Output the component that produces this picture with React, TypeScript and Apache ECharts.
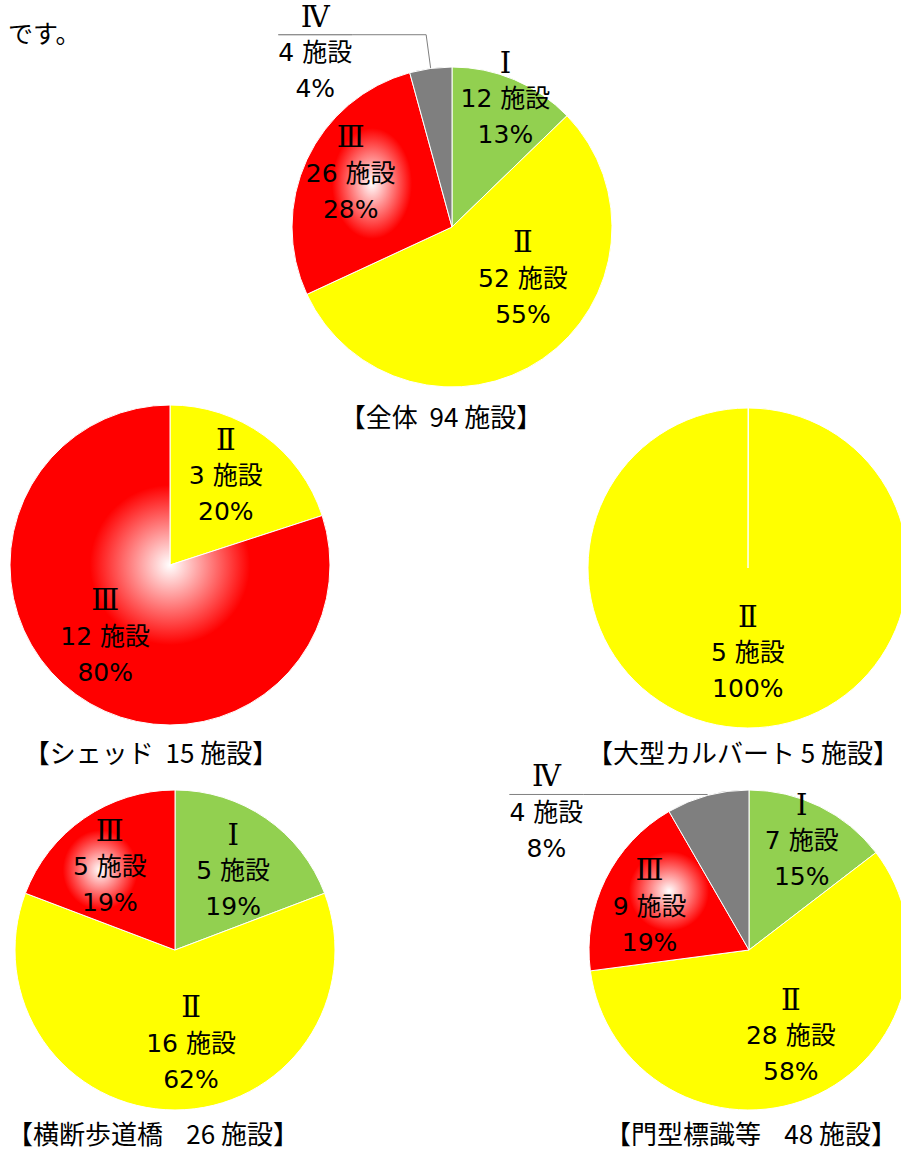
import React, { useEffect, useRef } from 'react';
import * as echarts from 'echarts';

// ---- data ----
const introText = 'です。';
const unitLabel = '施設';

const allNames = ['Ⅰ', 'Ⅱ', 'Ⅲ', 'Ⅳ'];
const allValues = [12, 52, 26, 4];

const shedNames = ['Ⅱ', 'Ⅲ'];
const shedValues = [3, 12];

const culvertNames = ['Ⅰ', 'Ⅱ'];
const culvertValues = [0, 5];

const bridgeNames = ['Ⅰ', 'Ⅱ', 'Ⅲ'];
const bridgeValues = [5, 16, 5];

const signNames = ['Ⅰ', 'Ⅱ', 'Ⅲ', 'Ⅳ'];
const signValues = [7, 28, 9, 4];

const chartTitles = [
  '【全体  94 施設】',
  '【シェッド  15 施設】',
  '【大型カルバート 5 施設】',
  '【横断歩道橋    26 施設】',
  '【門型標識等    48 施設】',
];

// ---- layout / style ----
const RADIUS = 160;
const pieLayouts: any[] = [
  { names: allNames, values: allValues, center: [452, 227], title: [441, 415], minAngle: 0,
    nudges: [[21, -52], [24, -17], [-26, -19], null], outside: { 3: [34, 74] } },
  { names: shedNames, values: shedValues, center: [170, 565], title: [151, 751], minAngle: 0,
    nudges: [[7, -22], [-16, 4]], outside: {} },
  { names: culvertNames, values: culvertValues, center: [748, 568], title: [743, 751], minAngle: 0.2,
    nudges: [null, [0, 2]], outside: {} },
  { names: bridgeNames, values: bridgeValues, center: [175, 950], title: [153, 1132], minAngle: 0,
    nudges: [[11, -11], [16, 10], [-18, -15]], outside: {} },
  { names: signNames, values: signValues, center: [749, 950], title: [751, 1132], minAngle: 0,
    nudges: [[16, -35], [10, 9], [-25, -7], null], outside: { 3: [1, 124] } },
];

const redGlow = new echarts.graphic.RadialGradient(0.5, 0.5, 0.5, [
  { offset: 0, color: '#FFFFFF' },
  { offset: 0.5, color: '#FF0000' },
  { offset: 1, color: '#FF0000' },
]);

const colorMap: Record<string, any> = {
  'Ⅰ': '#92D050',
  'Ⅱ': '#FFFF00',
  'Ⅲ': redGlow,
  'Ⅳ': '#7F7F7F',
};

const numFont = '"DejaVu Serif", "Noto Sans CJK JP"';
const textFont = '"DejaVu Sans", "Noto Sans CJK JP"';
const cjkFont = '"Noto Sans CJK JP", "DejaVu Sans"';

const rich = {
  n: { fontFamily: numFont, fontSize: 29, lineHeight: 36, align: 'center', color: '#000' },
  t: { fontFamily: textFont, fontSize: 25, lineHeight: 36, align: 'center', color: '#000' },
  hr: { width: '100%', height: 0, lineHeight: 0, borderColor: '#7F7F7F', borderWidth: 0.8 },
};

function buildSeries(cfg: any) {
  return {
    type: 'pie',
    center: cfg.center,
    radius: RADIUS,
    startAngle: 90,
    clockwise: true,
    minAngle: cfg.minAngle,
    avoidLabelOverlap: false,
    percentPrecision: 0,
    silent: true,
    emphasis: { disabled: true },
    itemStyle: { borderColor: '#FFFFFF', borderWidth: 1 },
    label: {
      show: true,
      position: 'inside',
      color: '#000',
      textBorderWidth: 0,
      formatter: (p: any) => {
        if (p.data && p.data.isOutside) {
          return `{n|${p.name}}\n{hr|}\n{t|${p.value} ${unitLabel}}\n{t|${p.percent}%}`;
        }
        return `{n|${p.name}}\n{t|${p.value} ${unitLabel}}\n{t|${p.percent}%}`;
      },
      rich,
    },
    labelLine: { show: false },
    labelLayout: (p: any) => {
      const n = cfg.nudges[p.dataIndex];
      return n ? { dx: n[0], dy: n[1] } : {};
    },
    data: cfg.names.map((name: string, i: number) => {
      const item: any = { name, value: cfg.values[i], itemStyle: { color: colorMap[name] } };
      if (cfg.values[i] === 0) {
        item.label = { show: false };
        item.itemStyle = { color: '#FFFF00' };
      }
      const out = cfg.outside[i];
      if (out) {
        item.isOutside = true;
        item.label = { position: 'outside', distanceToLabelLine: 0, padding: [36, 0, 0, 0] };
        item.labelLine = {
          show: true,
          length: out[0],
          length2: out[1],
          lineStyle: { color: '#7F7F7F', width: 1 },
        };
      }
      return item;
    }),
  };
}

export default function App() {
  const ref = useRef<HTMLDivElement>(null);
  useEffect(() => {
    if (!ref.current) return;
    const chart = echarts.init(ref.current, null, { renderer: 'svg' });
    const graphics: any[] = [
      {
        type: 'text', x: 8, y: 32,
        style: { text: introText, fontFamily: cjkFont, fontSize: 25, fill: '#000', verticalAlign: 'middle', align: 'left' },
      },
      ...chartTitles.map((t, i) => ({
        type: 'text',
        x: pieLayouts[i].title[0],
        y: pieLayouts[i].title[1],
        style: { text: t, fontFamily: cjkFont, fontSize: 26, fill: '#000', align: 'center', verticalAlign: 'middle' },
      })),
    ];
    chart.setOption({
      animation: false,
      backgroundColor: '#FFFFFF',
      graphic: graphics,
      series: pieLayouts.map(buildSeries),
    });
    return () => chart.dispose();
  }, []);
  return (
    <div
      ref={ref}
      style={{ position: 'absolute', left: 0, top: 0, width: 901, height: 1151 }}
    />
  );
}
